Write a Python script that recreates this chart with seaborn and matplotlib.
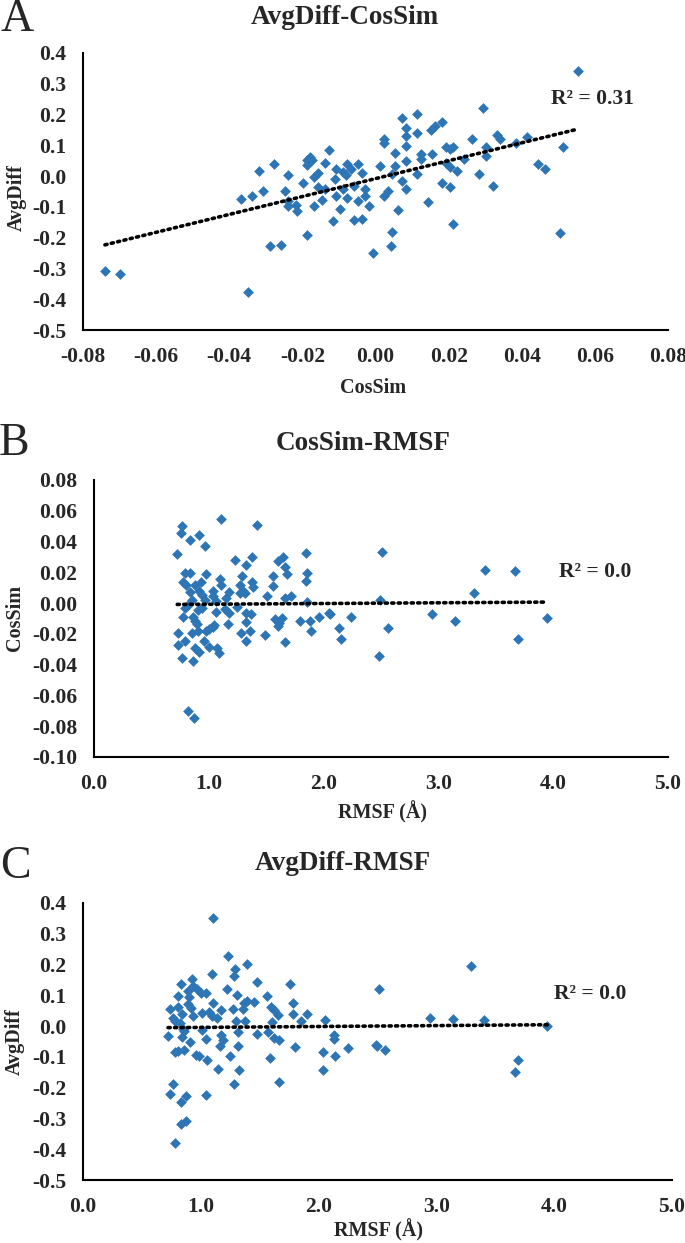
import numpy as np
import matplotlib
matplotlib.use("Agg")
import matplotlib.pyplot as plt
import seaborn as sns

# Panel A: CosSim vs AvgDiff
a_cossim = [0.0553, 0.0293, 0.0114, 0.0073, 0.0183, 0.0162, 0.0153, 0.0084, 0.0113, 0.0331,
            0.0341, 0.0415, 0.0264, 0.0084, 0.0023, 0.0023, 0.0385, 0.0084, 0.0514, 0.0303,
            0.0193, 0.0204, -0.0128, 0.0052, 0.0155, 0.0124, 0.0303, 0.0124, 0.0242, -0.0179,
            -0.0173, -0.0188, 0.0084, -0.0139, -0.0278, 0.0444, 0.0193, -0.0187, -0.0077, -0.0047,
            0.0011, 0.0054, 0.0204, 0.0464, -0.0318, -0.0109, -0.0068, 0.0223, 0.0046, 0.0114,
            0.0283, -0.0240, -0.0157, -0.0089, -0.0038, -0.0167, -0.0110, -0.0080, -0.0198, 0.0073,
            0.0183, 0.0204, -0.0059, -0.0158, -0.0137, -0.0029, 0.0084, 0.0321, -0.0248, 0.0034,
            -0.0308, -0.0089, 0.0022, -0.0029, -0.0339, -0.0109, -0.0368, -0.0078, -0.0146, -0.0047,
            -0.0239, 0.0143, -0.0218, -0.0168, -0.0239, -0.0018, -0.0098, 0.0061, -0.0216, -0.0116,
            -0.0058, -0.0037, 0.0213, 0.0046, -0.0187, 0.0504, -0.0288, -0.0258, 0.0043, -0.0007,
            -0.0740, -0.0699, -0.0348, 0.0212]
a_avgdiff = [0.343, 0.222, 0.201, 0.188, 0.177, 0.164, 0.149, 0.155, 0.140, 0.133,
             0.120, 0.128, 0.120, 0.130, 0.122, 0.106, 0.109, 0.098, 0.095, 0.095,
             0.095, 0.089, 0.086, 0.076, 0.073, 0.072, 0.065, 0.057, 0.057, 0.062,
             0.051, 0.051, 0.048, 0.044, 0.040, 0.040, 0.044, 0.035, 0.038, 0.038,
             0.032, 0.032, 0.029, 0.022, 0.017, 0.022, 0.022, 0.015, 0.008, 0.008,
             0.008, 0.005, 0.011, 0.013, 0.010, -0.003, -0.009, 0.002, -0.022, -0.016,
             -0.023, -0.034, -0.033, -0.036, -0.041, -0.041, -0.043, -0.033, -0.047, -0.047,
             -0.050, -0.041, -0.063, -0.065, -0.065, -0.065, -0.075, -0.072, -0.079, -0.081,
             -0.082, -0.084, -0.095, -0.097, -0.097, -0.097, -0.107, -0.109, -0.113, -0.145,
             -0.142, -0.140, -0.155, -0.180, -0.190, -0.186, -0.228, -0.224, -0.226, -0.249,
             -0.309, -0.317, -0.378, 0.095]

# Panel B: RMSF vs CosSim
b_rmsf = [0.725, 0.766, 0.755, 0.838, 0.917, 0.966, 1.106, 1.423, 1.230, 1.377,
          1.328, 1.604, 1.642, 1.660, 1.683, 1.849, 2.509, 1.853, 1.845, 1.562,
          1.555, 1.506, 1.713, 1.660, 3.408, 3.664, 3.306, 2.494, 1.853, 1.377,
          1.389, 1.287, 1.275, 1.302, 1.313, 1.275, 1.177, 1.151, 1.094, 1.102,
          1.038, 1.038, 0.974, 0.928, 0.883, 0.917, 0.943, 0.774, 0.800, 0.796,
          0.838, 0.834, 0.857, 0.970, 1.064, 0.789, 0.819, 0.906, 0.943, 1.064,
          1.143, 1.174, 0.774, 0.860, 0.883, 0.898, 1.170, 1.245, 1.321, 1.366,
          1.325, 0.728, 0.853, 0.902, 0.977, 1.004, 1.038, 1.049, 0.728, 0.792,
          0.883, 0.913, 0.962, 1.000, 1.072, 1.091, 0.770, 0.860, 1.283, 1.358,
          1.328, 1.491, 1.577, 1.608, 1.634, 1.604, 1.660, 1.792, 1.883, 1.887,
          1.962, 2.045, 2.053, 2.238, 2.132, 2.151, 2.558, 2.483, 2.943, 3.143,
          3.947, 3.691, 0.823, 0.875]
b_cossim = [0.0316, 0.0499, 0.0458, 0.0407, 0.0440, 0.0370, 0.0545, 0.0506, 0.0281, 0.0298,
            0.0249, 0.0276, 0.0298, 0.0233, 0.0189, 0.0324, 0.0335, 0.0193, 0.0141, 0.0174,
            0.0109, 0.0047, 0.0047, 0.0036, 0.0217, 0.0208, 0.0067, 0.0019, 0.0008, 0.0139,
            0.0102, 0.0174, 0.0117, 0.0080, 0.0063, 0.0063, 0.0073, 0.0036, 0.0156, 0.0117,
            0.0080, 0.0047, 0.0189, 0.0135, 0.0119, 0.0076, 0.0054, 0.0135, 0.0119, 0.0196,
            0.0196, 0.0069, 0.0019, 0.0019, 0.0015, -0.0034, -0.0012, -0.0047, -0.0029, -0.0055,
            -0.0040, -0.0066, -0.0090, -0.0090, -0.0116, -0.0134, -0.0134, -0.0023, -0.0062, -0.0073,
            -0.0121, -0.0193, -0.0197, -0.0182, -0.0182, -0.0167, -0.0154, -0.0145, -0.0269, -0.0247,
            -0.0291, -0.0317, -0.0247, -0.0287, -0.0291, -0.0324, -0.0356, -0.0378, -0.0193, -0.0178,
            -0.0247, -0.0204, -0.0106, -0.0127, -0.0095, -0.0149, -0.0251, -0.0116, -0.0116, -0.0178,
            -0.0090, -0.0062, -0.0073, -0.0090, -0.0160, -0.0230, -0.0160, -0.0345, -0.0073, -0.0116,
            -0.0095, -0.0230, -0.0701, -0.0745]

# Panel C: RMSF vs AvgDiff
c_rmsf = [1.107, 1.230, 1.289, 1.278, 1.389, 3.296, 1.093, 0.926, 0.833, 0.937,
          0.970, 1.000, 0.889, 0.807, 1.048, 1.222, 1.311, 1.478, 1.759, 2.515,
          1.563, 1.448, 1.107, 0.896, 0.889, 0.915, 0.807, 0.737, 0.933, 0.841,
          0.763, 0.778, 1.011, 1.067, 1.093, 1.170, 1.270, 1.370, 1.389, 1.359,
          1.593, 1.622, 1.659, 1.785, 1.781, 1.900, 1.848, 2.052, 2.944, 3.141,
          3.400, 3.941, 1.300, 1.374, 1.604, 1.137, 0.822, 0.848, 0.856, 0.722,
          0.844, 0.911, 1.007, 1.041, 1.170, 1.185, 1.159, 1.315, 1.319, 1.481,
          1.570, 1.619, 1.667, 2.133, 2.133, 2.248, 2.041, 2.141, 1.796, 2.485,
          2.496, 2.563, 0.778, 0.856, 0.804, 0.959, 0.981, 1.052, 1.248, 1.585,
          1.148, 1.322, 2.041, 1.663, 1.281, 3.693, 3.667, 0.767, 0.737, 1.048,
          0.878, 0.830, 0.833, 0.878, 0.778]
c_avgdiff = [0.351, 0.229, 0.185, 0.162, 0.202, 0.194, 0.169, 0.152, 0.137, 0.129,
             0.120, 0.109, 0.115, 0.098, 0.106, 0.122, 0.100, 0.144, 0.138, 0.122,
             0.098, 0.077, 0.074, 0.093, 0.073, 0.060, 0.062, 0.054, 0.032, 0.040,
             0.027, 0.018, 0.043, 0.047, 0.032, 0.053, 0.056, 0.074, 0.082, 0.056,
             0.063, 0.051, 0.036, 0.076, 0.038, 0.040, 0.018, 0.020, 0.027, 0.023,
             0.020, 0.000, 0.016, 0.016, 0.012, 0.027, 0.010, -0.008, -0.017, -0.031,
             -0.034, -0.050, -0.012, -0.041, -0.028, -0.045, -0.063, -0.019, -0.063, -0.025,
             -0.019, -0.039, -0.045, -0.028, -0.041, -0.070, -0.083, -0.096, -0.068, -0.061,
             -0.063, -0.077, -0.085, -0.077, -0.080, -0.094, -0.096, -0.109, -0.096, -0.105,
             -0.138, -0.144, -0.142, -0.180, -0.189, -0.111, -0.150, -0.187, -0.221, -0.224,
             -0.228, -0.248, -0.318, -0.309, -0.379]

panels = [
    dict(x=a_cossim, y=a_avgdiff, letter="A", title="AvgDiff-CosSim", xlabel="CosSim", ylabel="AvgDiff",
         r2="R² = 0.31", r2_pos=(0.048, 0.25), xlim=(-0.08, 0.08), xticks=np.arange(-0.08, 0.081, 0.02), xfmt="{:.2f}",
         ylim=(-0.5, 0.4), yticks=np.arange(-0.5, 0.41, 0.1), yfmt="{:.1f}"),
    dict(x=b_rmsf, y=b_cossim, letter="B", title="CosSim-RMSF", xlabel="RMSF (Å)", ylabel="CosSim",
         r2="R² = 0.0", r2_pos=(4.05, 0.02), xlim=(0, 5), xticks=np.arange(0, 5.1, 1.0), xfmt="{:.1f}",
         ylim=(-0.10, 0.08), yticks=np.arange(-0.10, 0.081, 0.02), yfmt="{:.2f}"),
    dict(x=c_rmsf, y=c_avgdiff, letter="C", title="AvgDiff-RMSF", xlabel="RMSF (Å)", ylabel="AvgDiff",
         r2="R² = 0.0", r2_pos=(4.0, 0.105), xlim=(0, 5), xticks=np.arange(0, 5.1, 1.0), xfmt="{:.1f}",
         ylim=(-0.5, 0.4), yticks=np.arange(-0.5, 0.41, 0.1), yfmt="{:.1f}"),
]

# layout in pixels of the 685x1243 figure: axes box, title/letter/label anchors
W, H = 685, 1243
boxes = [(83, 668, 53, 330), (94, 668, 480, 757), (83, 672, 903, 1180)]
title_xy = [(345, 17), (363, 444), (343, 864)]
letter_xy = [(17, 20), (14, 444), (15, 867)]
xlabel_xy = [(373, 388), (383, 812), (378, 1230)]
ylabel_xy = [(17, 198), (15, 618), (15, 1042)]


def fmt(f, v):
    v = round(v, 4)
    if abs(v) < 1e-9:
        v = 0.0
    return f.format(v)


sns.set_theme(style="white")
plt.rcParams["font.family"] = ["Liberation Serif", "DejaVu Serif"]

blue = "#2E75B6"
fig = plt.figure(figsize=(W / 100, H / 100), dpi=100)

for i, p in enumerate(panels):
    l, r, t, b = boxes[i]
    ax = fig.add_axes([l / W, 1 - b / H, (r - l) / W, (b - t) / H])
    sns.scatterplot(x=p["x"], y=p["y"], ax=ax, marker="D", s=30, color=blue, linewidth=0)

    # linear trendline
    xs = np.array(p["x"])
    ys = np.array(p["y"])
    k, c0 = np.polyfit(xs, ys, 1)
    xx = np.array([xs.min(), xs.max()])
    ax.plot(xx, k * xx + c0, color="black", linewidth=2.6, linestyle=(0, (0.6, 1.2)),
            dash_capstyle="round")

    ax.text(p["r2_pos"][0], p["r2_pos"][1], p["r2"], ha="left", va="center",
            fontsize=15.5, fontweight="bold")

    ax.set_xlim(*p["xlim"])
    ax.set_ylim(*p["ylim"])
    ax.set_xticks(p["xticks"])
    ax.set_xticklabels([fmt(p["xfmt"], v) for v in p["xticks"]])
    ax.set_yticks(p["yticks"])
    ax.set_yticklabels([fmt(p["yfmt"], v) for v in p["yticks"]])
    ax.tick_params(length=0, labelsize=15.5, pad=12)
    for lab in ax.get_xticklabels() + ax.get_yticklabels():
        lab.set_fontweight("bold")
    for side in ["top", "right"]:
        ax.spines[side].set_visible(False)
    for side in ["left", "bottom"]:
        ax.spines[side].set_color("black")
        ax.spines[side].set_linewidth(1.5)
    ax.set_xlabel("")
    ax.set_ylabel("")

    fig.text(title_xy[i][0] / W, 1 - title_xy[i][1] / H, p["title"], ha="center", va="center",
             fontsize=19.5, fontweight="bold")
    fig.text(letter_xy[i][0] / W, 1 - letter_xy[i][1] / H, p["letter"], ha="center", va="center",
             fontsize=33)
    fig.text(xlabel_xy[i][0] / W, 1 - xlabel_xy[i][1] / H, p["xlabel"], ha="center", va="center",
             fontsize=14.5, fontweight="bold")
    fig.text(ylabel_xy[i][0] / W, 1 - ylabel_xy[i][1] / H, p["ylabel"], ha="center", va="center",
             fontsize=14.5, fontweight="bold", rotation=90)

fig.savefig("out.png", dpi=100)
plt.close(fig)
